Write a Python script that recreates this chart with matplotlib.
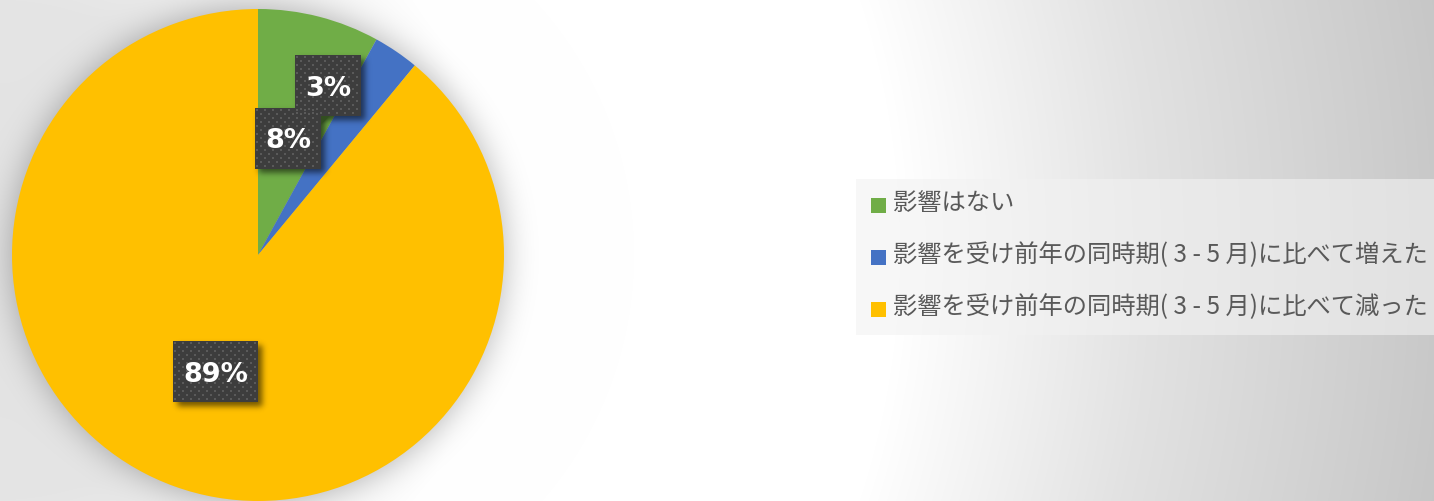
import math
import numpy as np
import matplotlib
matplotlib.use("Agg")
import matplotlib.pyplot as plt
from matplotlib.patches import Rectangle

# ---- data -------------------------------------------------------------
categories = [
    "影響はない",
    "影響を受け前年の同時期( 3 - 5 月)に比べて増えた",
    "影響を受け前年の同時期( 3 - 5 月)に比べて減った",
]
shares = [8, 3, 89]
colors = ["#70AD47", "#4472C4", "#FFC000"]

# ---- canvas (1 data unit == 1 pixel) ----------------------------------
W, H = 1434, 501
fig = plt.figure(figsize=(W / 100, H / 100), dpi=100)
ax = fig.add_axes([0, 0, 1, 1])

PIE_CX, PIE_CY, PIE_R = 258, 255, 246   # pixel coords, y from top

yy, xx = np.mgrid[0:H, 0:W] + 0.5

# chart-area gradient: light grey at the far left, white band, grey to the right
r_left = np.hypot(xx, yy - 250)
left_v = np.interp(r_left, [0, 250, 400, 490], [226, 229, 244, 255])
r_right = np.hypot(xx - 100, yy - 250)
right_v = np.interp(r_right, [800, 1050, 1400], [255, 226, 195])
bg = np.minimum(left_v, right_v) / 255.0

# soft glow-shadow around the pie
s = 16.0
dgrid = np.linspace(-150, 250, 2001)
erfc_tab = np.array([math.erfc(v / (s * math.sqrt(2))) for v in dgrid])
d = np.hypot(xx - PIE_CX, yy - PIE_CY) - PIE_R
bg = bg * (1 - 0.28 * 0.5 * np.interp(d, dgrid, erfc_tab))

ax.imshow(np.dstack([bg] * 3), extent=(0, W, 0, H), origin="upper",
          zorder=0, interpolation="bilinear")

# ---- pie --------------------------------------------------------------
wedges, _ = ax.pie(shares, colors=colors, startangle=90, counterclock=False,
                   center=(PIE_CX, H - PIE_CY), radius=PIE_R,
                   wedgeprops=dict(linewidth=0), frame=True)

ax.set_xlim(0, W)
ax.set_ylim(0, H)
ax.set_aspect("equal")
ax.axis("off")

# ---- data labels ------------------------------------------------------
total = float(sum(shares))
label_frac = [0.49, 0.745, 0.505]
label_nudge = [0.0, 11.7, 0.0]   # small slice label pushed toward the top
fs = 19.5

positions = []
cum = 0.0
for v, fr, nd in zip(shares, label_frac, label_nudge):
    mid = 360.0 * (cum + v / 2) / total - nd     # clockwise from 12 o'clock
    cum += v
    rad = math.radians(mid)
    px = PIE_CX + fr * PIE_R * math.sin(rad)
    py = PIE_CY - fr * PIE_R * math.cos(rad)
    positions.append((px, py))

texts = []
for v, (px, py) in zip(shares, positions):
    cap = 0.729 * fs * 100 / 72
    t = ax.text(px, H - py - cap / 2, f"{v}%", ha="center", va="baseline",
                color="white", fontsize=fs, fontweight="bold",
                family="DejaVu Sans", zorder=6)
    texts.append(t)

fig.canvas.draw()
renderer = fig.canvas.get_renderer()

box_h = 61
boxes = []
for t, (px, py) in zip(texts, positions):
    w = t.get_window_extent(renderer).width + 20
    boxes.append((px - w / 2, py - box_h / 2, px + w / 2, py + box_h / 2))

# blurred drop shadows of the label boxes
xs = np.arange(W) + 0.5
ys = np.arange(H) + 0.5
sb = 3.0
erf_v = np.vectorize(math.erf)
alpha = np.zeros((H, W))
for x0, y0, x1, y1 in boxes:
    ox, oy = 4, 4
    axs = 0.5 * (erf_v((xs - x0 - ox) / (sb * math.sqrt(2)))
                 - erf_v((xs - x1 - ox) / (sb * math.sqrt(2))))
    ays = 0.5 * (erf_v((ys - y0 - oy) / (sb * math.sqrt(2)))
                 - erf_v((ys - y1 - oy) / (sb * math.sqrt(2))))
    alpha += np.outer(ays, axs)
shadow = np.zeros((H, W, 4))
shadow[..., 3] = np.clip(alpha, 0, 1) * 0.55
ax.imshow(shadow, extent=(0, W, 0, H), origin="upper", zorder=3,
          interpolation="bilinear")

# dark patterned label boxes
for x0, y0, x1, y1 in boxes:
    ax.add_patch(Rectangle((x0, H - y1), x1 - x0, y1 - y0,
                           facecolor="#3d3d3d", edgecolor="none", zorder=4))
    dx, dy = [], []
    row = 0
    yv = y0 + 2
    while yv < y1 - 1:
        xv = x0 + 2 + (4 if row % 2 else 0)
        while xv < x1 - 1:
            dx.append(xv)
            dy.append(H - yv)
            xv += 8
        yv += 4
        row += 1
    ax.scatter(dx, dy, marker="s", s=1.1, color="#5a5a5a", linewidths=0,
               zorder=5)

# ---- legend -----------------------------------------------------------
leg_x0, leg_y0, leg_y1 = 856, 179, 335
ax.add_patch(Rectangle((leg_x0, H - leg_y1), W - leg_x0, leg_y1 - leg_y0,
                       facecolor="#f2f2f2", alpha=0.6, edgecolor="none",
                       zorder=2))
row_y = [203, 255, 307]
for lab, col, ry in zip(categories, colors, row_y):
    ax.add_patch(Rectangle((871, H - ry - 7.5 - 2), 15, 15, facecolor=col,
                           edgecolor="none", zorder=3))
    ax.text(893, H - ry, lab, ha="left", va="center", fontsize=17.5,
            color="#595959", family=["Noto Sans CJK JP", "DejaVu Sans"],
            zorder=3)

fig.savefig("out.png", dpi=100)
